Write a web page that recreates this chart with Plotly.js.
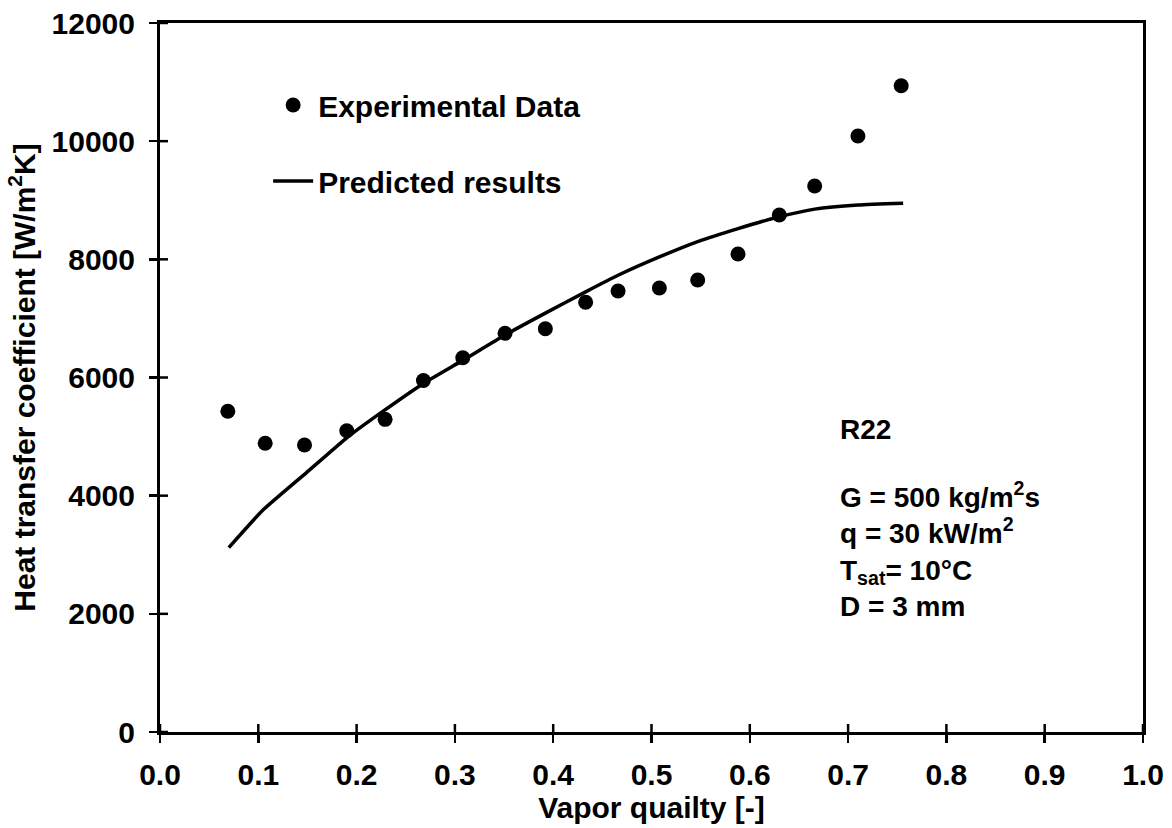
<!DOCTYPE html>
<html>
<head>
<meta charset="utf-8">
<script src="https://cdn.plot.ly/plotly-3.0.1.min.js"></script>
<style>html,body{margin:0;padding:0;background:#fff;}#chart{width:1172px;height:828px;}</style>
</head>
<body>
<div id="chart"></div>
<script>
// Experimental data
const expX = [0.069, 0.107, 0.147, 0.190, 0.229, 0.268, 0.308, 0.351, 0.392, 0.433, 0.466, 0.508, 0.547, 0.588, 0.630, 0.666, 0.710, 0.754];
const expY = [5430, 4886, 4858, 5100, 5292, 5950, 6335, 6748, 6826, 7273, 7464, 7515, 7650, 8090, 8750, 9241, 10087, 10939];
// Predicted results
const predX = [0.070, 0.105, 0.149, 0.190, 0.227, 0.268, 0.308, 0.351, 0.392, 0.433, 0.466, 0.508, 0.547, 0.588, 0.630, 0.666, 0.710, 0.756];
const predY = [3120, 3760, 4390, 4980, 5430, 5900, 6290, 6720, 7090, 7450, 7730, 8040, 8300, 8520, 8720, 8850, 8920, 8950];

const xTicks = [0, 0.1, 0.2, 0.3, 0.4, 0.5, 0.6, 0.7, 0.8, 0.9, 1.0];
const xTickText = ['0.0', '0.1', '0.2', '0.3', '0.4', '0.5', '0.6', '0.7', '0.8', '0.9', '1.0'];
const yTicks = [0, 2000, 4000, 6000, 8000, 10000, 12000];
const yTickText = ['0', '2000', '4000', '6000', '8000', '10000', '12000'];

const FONT = 'Liberation Sans, Arial, sans-serif';

const traces = [
  {
    x: expX, y: expY, type: 'scatter', mode: 'markers', name: 'Experimental Data',
    legendgroup: 'a',
    marker: {color: '#000', size: 15, symbol: 'circle'}
  },
  {
    x: predX, y: predY, type: 'scatter', mode: 'lines', name: 'Predicted results',
    legendgroup: 'b',
    line: {color: '#000', width: 3.5, shape: 'spline', smoothing: 0.5}
  }
];

const axisCommon = {
  showline: true, linecolor: '#000', linewidth: 3, mirror: true,
  showgrid: false, zeroline: false,
  ticks: 'outside', ticklen: 8, tickwidth: 2.5, tickcolor: '#000',
  tickfont: {family: FONT, size: 30, color: '#000', weight: 'bold'}
};

// inner halves of the cross-shaped tick marks, placed at the tick values
const tickShapes = [];
xTicks.forEach(v => tickShapes.push({
  type: 'line', xref: 'x', yref: 'paper', ysizemode: 'pixel', yanchor: 0,
  x0: v, x1: v, y0: 0, y1: 8, line: {color: '#000', width: 2.5}
}));
yTicks.forEach(v => tickShapes.push({
  type: 'line', xref: 'paper', yref: 'y', xsizemode: 'pixel', xanchor: 0,
  x0: 0, x1: 8, y0: v, y1: v, line: {color: '#000', width: 2.5}
}));

const layout = {
  width: 1172, height: 828,
  paper_bgcolor: '#fff', plot_bgcolor: '#fff',
  margin: {l: 160, r: 29, t: 23, b: 96},
  showlegend: true,
  legend: {
    x: 0.11, y: 0.921, xanchor: 'left', yanchor: 'top',
    bgcolor: 'rgba(0,0,0,0)', borderwidth: 0,
    font: {family: FONT, size: 30, color: '#000', weight: 'bold'},
    tracegroupgap: 34, itemwidth: 40, traceorder: 'grouped'
  },
  xaxis: Object.assign({}, axisCommon, {
    range: [0, 1], tickvals: xTicks, ticktext: xTickText,
    ticklabelstandoff: 6,
    title: {text: 'Vapor quailty [-]', font: {family: FONT, size: 30, color: '#000', weight: 'bold'}, standoff: 6}
  }),
  yaxis: Object.assign({}, axisCommon, {
    range: [0, 12000], tickvals: yTicks, ticktext: yTickText,
    ticklabelstandoff: 8,
    title: {text: 'Heat transfer coefficient [W/m<sup>2</sup>K]', font: {family: FONT, size: 30, color: '#000', weight: 'bold'}, standoff: 8}
  }),
  shapes: tickShapes,
  annotations: [
    {
      xref: 'paper', yref: 'paper', x: 0.69, y: 0.426, xanchor: 'left', yanchor: 'middle',
      text: 'R22', showarrow: false, align: 'left',
      font: {family: FONT, size: 28, color: '#000', weight: 'bold'}
    },
    {
      xref: 'paper', yref: 'paper', x: 0.69, y: 0.362, xanchor: 'left', yanchor: 'top',
      text: 'G = 500 kg/m<sup>2</sup>s<br>q = 30 kW/m<sup>2</sup><br>T<sub>sat</sub>= 10°C<br>D = 3 mm',
      showarrow: false, align: 'left',
      font: {family: FONT, size: 28, color: '#000', weight: 'bold'}
    }
  ]
};

Plotly.newPlot('chart', traces, layout, {displayModeBar: false, staticPlot: true});
</script>
</body>
</html>
